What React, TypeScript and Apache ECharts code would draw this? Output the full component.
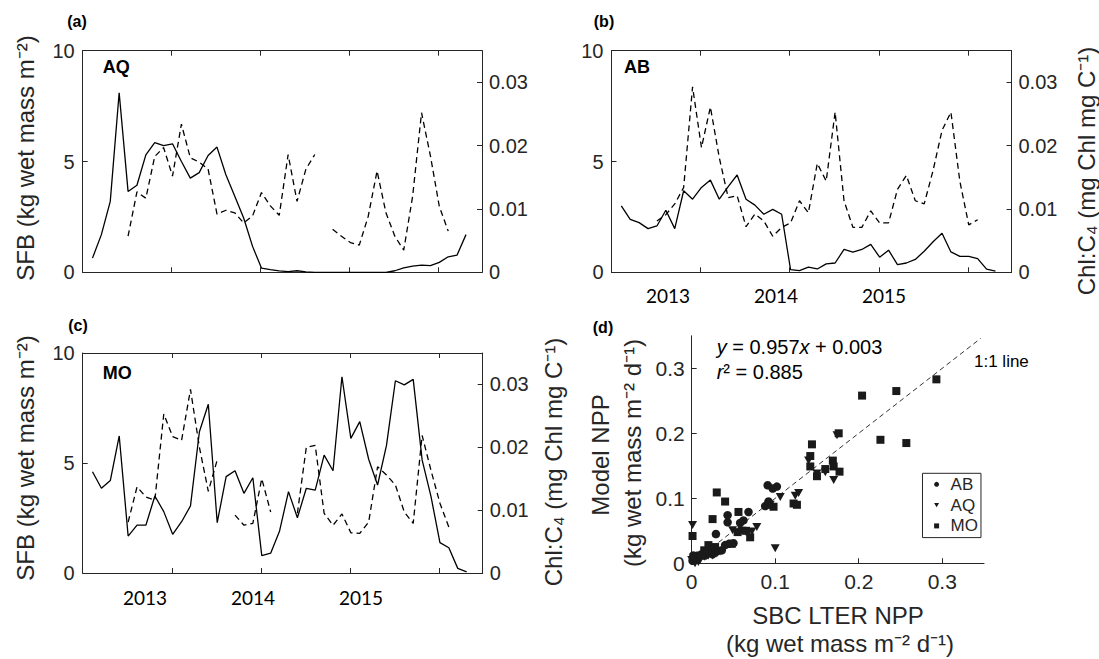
import React, { useEffect, useRef } from 'react';
import * as echarts from 'echarts';

// ---------- data ----------
const sampleYears = [
  2012.11, 2012.21, 2012.31, 2012.41, 2012.51, 2012.61, 2012.71, 2012.81, 2012.91, 2013.01,
  2013.11, 2013.21, 2013.31, 2013.41, 2013.51, 2013.61, 2013.71, 2013.81, 2013.91, 2014.01,
  2014.11, 2014.21, 2014.31, 2014.41, 2014.51, 2014.61, 2014.71, 2014.81, 2014.91, 2015.01,
  2015.11, 2015.21, 2015.31, 2015.41, 2015.51, 2015.61, 2015.71, 2015.81, 2015.91, 2016.01,
  2016.11, 2016.21, 2016.31,
];

const sfbAQ = [
  0.64, 1.7, 3.2, 8.1, 3.65, 3.93, 5.3, 5.85, 5.72, 5.8,
  5.0, 4.25, 4.5, 5.27, 5.65, 4.4, 3.43, 2.45, 1.17, 0.19,
  0.12, 0.06, 0.03, 0.07, 0.02, 0, 0, 0, 0, 0,
  0, 0, 0, 0, 0.07, 0.2, 0.28, 0.32, 0.3, 0.45,
  0.7, 0.78, 1.7,
];
const chlAQ = [
  null, null, null, null, 0.0057, 0.0127, 0.0117, 0.0183, 0.0197, 0.0152,
  0.0234, 0.0181, 0.0174, 0.0163, 0.0092, 0.0098, 0.0094, 0.0078, 0.0089, 0.0126,
  0.0105, 0.009, 0.0186, 0.0112, 0.0163, 0.0186, null, 0.0068, 0.0057, 0.0047,
  0.0043, 0.0088, 0.016, 0.0094, 0.0057, 0.0035, 0.012, 0.0252, 0.0184, 0.0104,
  0.0065, null, null,
];

const sfbAB = [
  3.0, 2.39, 2.24, 1.97, 2.09, 2.8, 1.97, 3.68, 3.3, 3.83,
  4.16, 3.3, 3.87, 4.39, 3.3, 3.03, 2.62, 2.84, 2.62, 0.12,
  0.08, 0.23, 0.15, 0.38, 0.42, 1.03, 0.91, 1.03, 1.26, 0.68,
  1.0, 0.35, 0.42, 0.58, 0.95, 1.38, 1.76, 0.92, 0.72, 0.72,
  0.62, 0.14, 0.05,
];
const chlAB = [
  null, null, null, null, 0.0081, 0.0091, 0.0108, 0.0134, 0.0293, 0.0197,
  0.0261, 0.0181, 0.0118, 0.0121, 0.0072, 0.0092, 0.0081, 0.0057, 0.0071, 0.0078,
  0.0113, 0.0094, 0.0172, 0.0144, 0.0253, 0.0113, 0.0071, 0.0071, 0.0097, 0.0078,
  0.0078, 0.0131, 0.0153, 0.0113, 0.0108, 0.0161, 0.0224, 0.0253, 0.0144, 0.0075,
  0.0083, null, null,
];

const sfbMO = [
  4.6, 3.85, 4.2, 6.23, 1.68, 2.18, 2.18, 3.5, 2.79, 1.76,
  2.33, 3.05, 6.42, 7.67, 2.29, 4.38, 4.65, 3.62, 4.33, 0.79,
  0.9, 1.91, 3.7, 2.51, 3.85, 3.77, 5.36, 4.65, 8.92, 6.12,
  6.88, 5.17, 4.0, 5.8, 8.74, 8.55, 8.8, 5.14, 3.47, 1.38,
  1.15, 0.21, 0.05,
];
const chlMO = [
  null, null, null, null, 0.0081, 0.0137, 0.0121, 0.0116, 0.0253, 0.0217,
  0.0211, 0.0292, 0.02, 0.013, 0.018, null, 0.0092, 0.0076, 0.0079, 0.015,
  0.0097, null, null, 0.0095, 0.02, 0.0203, 0.0095, 0.0076, 0.0094, 0.0064,
  0.0063, 0.0081, 0.0169, 0.0156, 0.014, 0.0097, 0.0079, 0.0219, 0.0163, 0.0111,
  0.0073, null, null,
];

const yearLabels = ['2013', '2014', '2015'];

// panel (d): [SBC LTER NPP, Model NPP]
const nppAB: number[][] = [
  [0.002, 0.012], [0.005, 0.008], [0.008, 0.010], [0.012, 0.014], [0.016, 0.012],
  [0.020, 0.016], [0.025, 0.014], [0.030, 0.018], [0.036, 0.020], [0.029, 0.045],
  [0.043, 0.063], [0.043, 0.074], [0.050, 0.031], [0.062, 0.066], [0.068, 0.079],
  [0.088, 0.088], [0.091, 0.120], [0.097, 0.115], [0.102, 0.118], [0.092, 0.095],
  [0.058, 0.062], [0.045, 0.030], [0.040, 0.028], [0.001, 0.004],
];
const nppAQ: number[][] = [
  [0.001, 0.059], [0.100, 0.023], [0.106, 0.102], [0.128, 0.108], [0.124, 0.104],
  [0.140, 0.158], [0.170, 0.128], [0.174, 0.197], [0.078, 0.056], [0.072, 0.049],
  [0.049, 0.051], [0.004, 0.000], [0.000, 0.005], [0.010, 0.005], [0.015, 0.010],
  [0.020, 0.012], [0.025, 0.012], [0.030, 0.015], [0.035, 0.018], [0.008, 0.002],
  [0.060, 0.050], [0.065, 0.048], [0.094, 0.090], [0.160, 0.140], [0.150, 0.138],
];
const nppMO: number[][] = [
  [0.001, 0.042], [0.030, 0.109], [0.040, 0.095], [0.025, 0.068], [0.056, 0.079],
  [0.070, 0.040], [0.048, 0.030], [0.020, 0.028], [0.098, 0.087], [0.092, 0.090],
  [0.122, 0.092], [0.126, 0.090], [0.144, 0.183], [0.142, 0.165], [0.142, 0.149],
  [0.150, 0.134], [0.169, 0.158], [0.170, 0.149], [0.176, 0.200], [0.177, 0.141],
  [0.204, 0.258], [0.226, 0.190], [0.245, 0.265], [0.257, 0.185], [0.293, 0.283],
  [0.003, 0.010], [0.010, 0.012], [0.015, 0.020], [0.022, 0.020], [0.028, 0.025],
  [0.055, 0.048], [0.065, 0.050], [0.160, 0.145],
];
const oneToOneExtent = [0, 0.346];
const siteNames = ['AB', 'AQ', 'MO'];

// ---------- styling ----------
const FONT = '"Liberation Sans", Arial, Helvetica, sans-serif';
const AX = '#262626';
const TRI = 'path://M0,0L10,0L5,8.66Z';

const grids = [
  { left: 82.7, top: 50.7, width: 399.3, height: 221.6 },
  { left: 611.5, top: 50.7, width: 400, height: 221.6 },
  { left: 82.7, top: 353, width: 400, height: 220 },
  { left: 691.7, top: 335.8, width: 292.3, height: 227.5 },
];

const axLine = { show: true, onZero: false, lineStyle: { color: AX, width: 1 } };
const axTick = { show: true, inside: true, length: 5, lineStyle: { color: AX, width: 1 } };

function timeX(gridIndex: number, position: string) {
  return {
    type: 'value', gridIndex, position, min: 2012, max: 2016.49, interval: 1,
    axisLine: axLine, axisTick: axTick, axisLabel: { show: false }, splitLine: { show: false },
  };
}
function sfbY(gridIndex: number) {
  return {
    type: 'value', gridIndex, position: 'left', min: 0, max: 10, interval: 5,
    axisLine: axLine, axisTick: axTick, splitLine: { show: false },
    axisLabel: { color: AX, fontSize: 20, fontFamily: FONT, margin: 8 },
  };
}
function chlY(gridIndex: number) {
  return {
    type: 'value', gridIndex, position: 'right', min: 0, max: 0.035, interval: 0.01,
    axisLine: axLine, axisTick: axTick, splitLine: { show: false },
    axisLabel: { color: AX, fontSize: 20, fontFamily: FONT, margin: 7, showMaxLabel: false },
  };
}
function pairs(vals: (number | null)[]) {
  return sampleYears.map((t, i) => [t, vals[i] == null ? '-' : vals[i]]);
}
function solid(xi: number, yi: number, vals: (number | null)[]) {
  return {
    type: 'line', xAxisIndex: xi, yAxisIndex: yi, data: pairs(vals), symbol: 'none',
    lineStyle: { color: '#000', width: 1.3 }, silent: true,
  };
}
function dashed(xi: number, yi: number, vals: (number | null)[]) {
  return {
    type: 'line', xAxisIndex: xi, yAxisIndex: yi, data: pairs(vals), symbol: 'none',
    lineStyle: { color: '#000', width: 1.3, type: [6, 4] }, silent: true,
  };
}

function txt(x: number, y: number, text: string, opts: any = {}) {
  const { rotation, ...style } = opts;
  return {
    type: 'text', x, y, rotation: rotation || 0, silent: true,
    style: {
      x: 0, y: 0, text, fill: '#000', fontFamily: FONT, fontSize: 20,
      align: 'center', verticalAlign: 'middle', ...style,
    },
  };
}

const sfbTitle = 'SFB (kg wet mass m\u207B\u00B2)';
const chlTitle = 'Chl:C\u2084 (mg Chl mg C\u207B\u00B9)';
const nppUnit = '(kg wet mass m\u207B\u00B2 d\u207B\u00B9)';
const yearXB = [668, 776, 884];
const yearXC = [145, 253, 361];

export default function App() {
  const ref = useRef<HTMLDivElement>(null);
  useEffect(() => {
    const chart = echarts.init(ref.current!, null, { renderer: 'svg' });
    const graphic: any[] = [
      txt(77, 21, '(a)', { fontWeight: 'bold', fontSize: 16 }),
      txt(604, 21, '(b)', { fontWeight: 'bold', fontSize: 16 }),
      txt(78, 325, '(c)', { fontWeight: 'bold', fontSize: 16 }),
      txt(603, 327, '(d)', { fontWeight: 'bold', fontSize: 16 }),
      txt(102.7, 67.3, 'AQ', { fontWeight: 'bold', fontSize: 18, align: 'left' }),
      txt(624, 67.3, 'AB', { fontWeight: 'bold', fontSize: 18, align: 'left' }),
      txt(102.7, 373, 'MO', { fontWeight: 'bold', fontSize: 18, align: 'left' }),
      txt(25.4, 158, sfbTitle, { fontSize: 24, rotation: Math.PI / 2, fill: AX }),
      txt(25.4, 458, sfbTitle, { fontSize: 24, rotation: Math.PI / 2, fill: AX }),
      txt(1086, 171, chlTitle, { fontSize: 24, rotation: Math.PI / 2, fill: AX }),
      txt(553, 462, chlTitle, { fontSize: 24, rotation: Math.PI / 2, fill: AX }),
      txt(600, 455, 'Model NPP', { fontSize: 24, rotation: Math.PI / 2, fill: AX }),
      txt(632, 453, nppUnit, { fontSize: 24, rotation: Math.PI / 2, fill: AX }),
      txt(838, 615, 'SBC LTER NPP', { fontSize: 24, fill: AX }),
      txt(840, 643, nppUnit, { fontSize: 24, fill: AX }),
      txt(716.7, 347, '{i|y} = 0.957{i|x} + 0.003', {
        align: 'left', fontSize: 20,
        rich: { i: { fontStyle: 'italic', fontSize: 20, fontFamily: FONT } },
      }),
      txt(716.7, 372, '{i|r}\u00B2 = 0.885', {
        align: 'left', fontSize: 20,
        rich: { i: { fontStyle: 'italic', fontSize: 20, fontFamily: FONT } },
      }),
      txt(974, 361, '1:1 line', { align: 'left', fontSize: 17 }),
    ];
    yearLabels.forEach((lab, i) => {
      graphic.push(txt(yearXB[i], 295, lab, { fontFamily: 'Lato, "Open Sans", sans-serif', fontSize: 19 }));
      graphic.push(txt(yearXC[i], 597, lab, { fontFamily: 'Lato, "Open Sans", sans-serif', fontSize: 19 }));
    });

    const scatterBase = {
      type: 'scatter', xAxisIndex: 6, yAxisIndex: 6,
      itemStyle: { color: '#1a1a1a', opacity: 1 }, silent: true, z: 3,
    };

    const option: any = {
      animation: false,
      backgroundColor: '#fff',
      textStyle: { fontFamily: FONT },
      grid: grids,
      xAxis: [
        timeX(0, 'bottom'), timeX(0, 'top'),
        timeX(1, 'bottom'), timeX(1, 'top'),
        timeX(2, 'bottom'), timeX(2, 'top'),
        {
          type: 'value', gridIndex: 3, position: 'bottom', min: 0, max: 0.35, interval: 0.1,
          axisLine: axLine, axisTick: axTick, splitLine: { show: false },
          axisLabel: { color: AX, fontSize: 21, fontFamily: FONT, margin: 8, showMaxLabel: false },
        },
      ],
      yAxis: [
        sfbY(0), chlY(0), sfbY(1), chlY(1), sfbY(2), chlY(2),
        {
          type: 'value', gridIndex: 3, position: 'left', min: 0, max: 0.35, interval: 0.1,
          axisLine: axLine, axisTick: axTick, splitLine: { show: false },
          axisLabel: { color: AX, fontSize: 21, fontFamily: FONT, margin: 7, showMaxLabel: false },
        },
      ],
      legend: {
        data: [
          { name: siteNames[0], icon: 'circle' },
          { name: siteNames[1], icon: TRI },
          { name: siteNames[2], icon: 'rect' },
        ],
        orient: 'vertical', left: 922.5, top: 473.3,
        itemWidth: 5, itemHeight: 5, itemGap: 3.8,
        padding: [2.5, 3, 3.2, 11.6],
        borderColor: AX, borderWidth: 1, backgroundColor: '#fff',
        selectedMode: false,
        formatter: '{n|{name}}',
        textStyle: {
          color: AX,
          rich: { n: { fontSize: 17, lineHeight: 17, padding: [0, 0, 0, 6.5], fontFamily: FONT, color: AX } },
        },
      },
      series: [
        solid(0, 0, sfbAQ), dashed(0, 1, chlAQ),
        solid(2, 2, sfbAB), dashed(2, 3, chlAB),
        solid(4, 4, sfbMO), dashed(4, 5, chlMO),
        {
          type: 'line', xAxisIndex: 6, yAxisIndex: 6, symbol: 'none', silent: true, z: 2,
          data: oneToOneExtent.map((v) => [v, v]),
          lineStyle: { color: '#333', width: 1, type: [5, 3.5] },
        },
        { ...scatterBase, name: siteNames[0], symbol: 'circle', symbolSize: 8.5, data: nppAB },
        { ...scatterBase, name: siteNames[1], symbol: TRI, symbolSize: [9, 8], data: nppAQ },
        { ...scatterBase, name: siteNames[2], symbol: 'rect', symbolSize: 8, data: nppMO },
      ],
      graphic,
    };
    chart.setOption(option);
    return () => chart.dispose();
  }, []);
  return (
    <div
      ref={ref}
      style={{ position: 'absolute', left: 0, top: 0, width: 1099, height: 659, background: '#fff' }}
    />
  );
}
